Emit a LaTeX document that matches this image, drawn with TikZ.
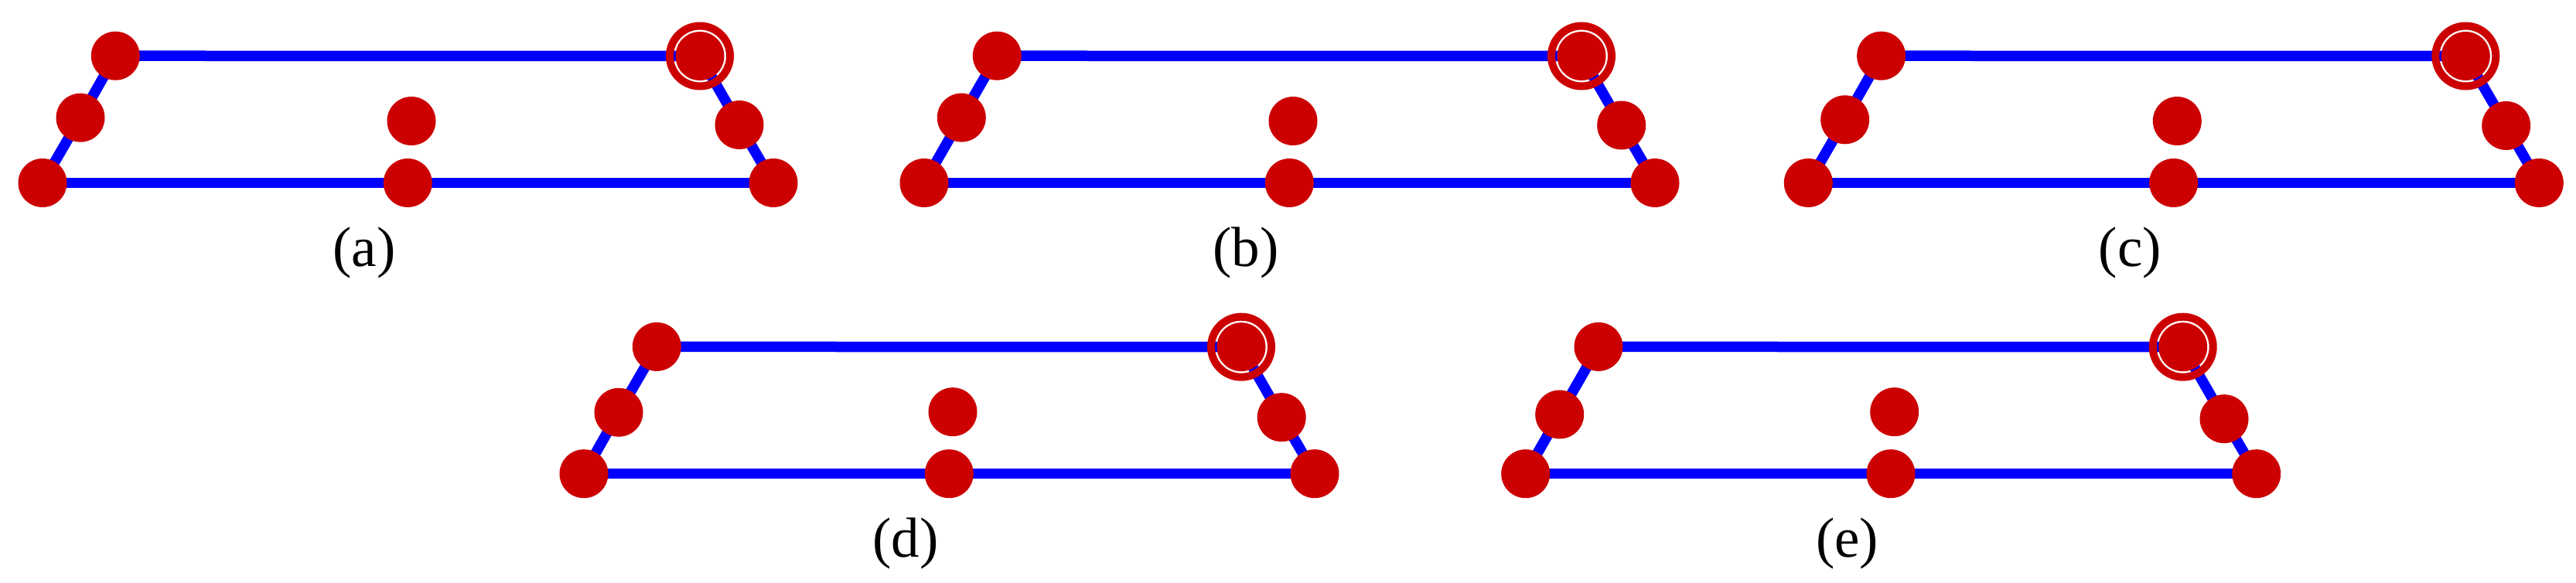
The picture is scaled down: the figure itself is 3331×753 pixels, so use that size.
\documentclass[tikz,border=0pt]{standalone}
\usepackage{fontspec}
\setmainfont{Liberation Serif}
\pgfdeclarelayer{background}
\pgfsetlayers{background,main}
\definecolor{atomred}{RGB}{204,0,0}
\definecolor{bondblue}{RGB}{0,0,255}
\tikzset{
  atom/.style={circle, fill=atomred, minimum size=63pt, inner sep=0pt, outer sep=0pt},
  ringmark/.style={circle, draw=atomred, line width=10pt, minimum size=78pt, inner sep=0pt},
  bond/.style={draw=bondblue, line width=13.5pt},
  caption/.style={font=\fontsize{73}{85}\selectfont, inner sep=0pt}
}
% #1 prefix, #2 x, #3 y, #4 lm dx, #5 lm dy, #6 rm dx, #7 rm dy, #8 label
\newcommand\molpanel[8]{%
\begin{scope}[shift={(#2,#3)}]
  \node[ringmark] (#1ring) at (850,-164) {};
  \node[atom] (#1bl) at (0,0) {};
  \node[atom] (#1lm) at (#4,#5) {};
  \node[atom] (#1tl) at (94.3,-164.3) {};
  \node[atom] (#1tr) at (850,-164) {};
  \node[atom] (#1rm) at (#6,#7) {};
  \node[atom] (#1br) at (945,0) {};
  \node[atom] (#1bm) at (472.3,0) {};
  \node[atom] (#1c) at (477,-80) {};
  \node[caption] (#1lab) at (416,90) {(#8)};
  \begin{pgfonlayer}{background}
    \draw[bond] (#1bl.center) -- (#1bm.center) -- (#1br.center);
    \draw[bond] (#1tl.center) -- (#1tr.center);
    \draw[bond] (#1bl.center) -- (#1lm.center) -- (#1tl.center);
    \draw[bond] (#1tr.center) -- (#1rm.center) -- (#1br.center);
  \end{pgfonlayer}
\end{scope}}
\begin{document}
\begin{tikzpicture}[x=1pt,y=-1pt]
  \useasboundingbox (0,0) rectangle (3331,753);
  \molpanel{a}{55}{236.5}{49}{-84.3}{901}{-75}{a}
  \molpanel{b}{1195}{236.5}{48.3}{-84.4}{901.7}{-74.5}{b}
  \molpanel{c}{2338.3}{236.5}{47.4}{-81.7}{902.4}{-74}{c}
  \molpanel{d}{755}{612.7}{45}{-79.4}{902.2}{-73}{d}
  \molpanel{e}{1972.7}{612.7}{44}{-76.7}{903.3}{-71}{e}
\end{tikzpicture}
\end{document}
